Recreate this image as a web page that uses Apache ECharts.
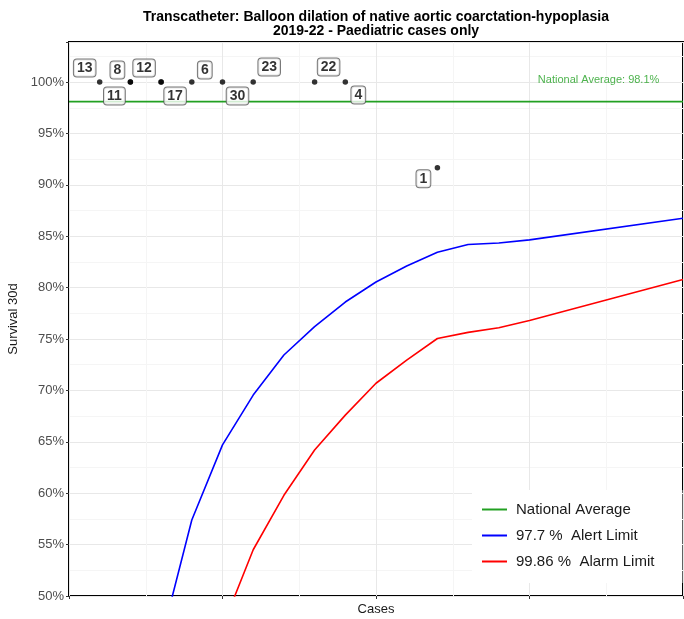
<!DOCTYPE html>
<html><head><meta charset="utf-8">
<script src="https://cdn.jsdelivr.net/npm/echarts@6/dist/echarts.min.js"></script>
<style>html,body{margin:0;padding:0;background:#fff}#c{width:684px;height:619px}</style>
</head><body><div id="c"></div>
<script>
// Hospital points (code label, cases, 30-day survival %)
const hospitalCodes = ['13','8','11','12','17','6','30','23','22','4','1'];
const hospitalCases = [2, 4, 4, 6, 6, 8, 10, 12, 16, 18, 24];
const hospitalSurvival = [100, 100, 100, 100, 100, 100, 100, 100, 100, 100, 91.67];
// label displacement (repel-style) in px relative to each point
const labelOffsets = [[-15,-14],[-13,-12],[-16,14],[-17,-14],[14,14],[13,-12],[15,14],[16,-15],[14,-15],[13,13],[-14,11]];

const nationalAverage = 98.1;
const xRange = [0, 40];

const alertCases = [6, 8, 10, 12, 14, 16, 18, 20, 22, 24, 26, 28, 30, 40];
const alertValues = [45.7, 57.4, 64.7, 69.55, 73.45, 76.2, 78.6, 80.55, 82.1, 83.45, 84.2, 84.35, 84.65, 86.75];

const alarmCases = [10, 12, 14, 16, 18, 20, 22, 24, 26, 28, 30, 40];
const alarmValues = [47.0, 54.5, 59.8, 64.2, 67.6, 70.7, 72.95, 75.05, 75.65, 76.1, 76.8, 80.8];

const yTicks = [50, 55, 60, 65, 70, 75, 80, 85, 90, 95, 100];

const GREEN = '#22a022', BLUE = '#0000ff', RED = '#ff0000';
const chart = echarts.init(document.getElementById('c'), null, {renderer: 'canvas'});
const zip = (a, b) => a.map((v, i) => [v, b[i]]);

chart.setOption({
  animation: false,
  backgroundColor: '#fff',
  textStyle: {fontFamily: '"Liberation Sans", Arial, sans-serif'},
  title: {
    text: 'Transcatheter: Balloon dilation of native aortic coarctation-hypoplasia\n2019-22 - Paediatric cases only',
    left: 376, top: 10, padding: 0, textAlign: 'center',
    textStyle: {fontSize: 14, fontWeight: 'bold', color: '#000', lineHeight: 14, fontFamily: '"Liberation Sans", Arial, sans-serif'}
  },
  grid: {left: 69, right: 1, top: 42, bottom: 23, show: true, borderColor: '#000', borderWidth: 2,
    backgroundColor: 'transparent', containLabel: false, outerBoundsMode: 'none'},
  legend: {
    data: ['National Average', '97.7 %  Alert Limit', '99.86 %  Alarm Limit'],
    orient: 'vertical', left: 472, top: 490,
    padding: [12, 28, 14, 10], itemGap: 11,
    backgroundColor: '#fff',
    icon: 'rect', itemWidth: 25, itemHeight: 2,
    textStyle: {fontSize: 15, color: '#1a1a1a', fontFamily: '"Liberation Sans", Arial, sans-serif', padding: [0, 0, 0, 4]}
  },
  xAxis: {
    type: 'value', min: xRange[0], max: xRange[1], interval: 10,
    name: 'Cases', nameLocation: 'middle', nameGap: 7,
    nameTextStyle: {fontSize: 13, color: '#1a1a1a', verticalAlign: 'top'},
    axisLine: {show: false},
    axisTick: {show: true, length: 3, lineStyle: {color: '#333', width: 1}},
    axisLabel: {show: false},
    splitLine: {show: true, lineStyle: {color: '#e8e8e8', width: 1}},
    minorTick: {show: false, splitNumber: 2},
    minorSplitLine: {show: true, lineStyle: {color: '#f5f5f5', width: 1}}
  },
  yAxis: {
    type: 'value', min: 50, max: 103.9, interval: 5,
    name: 'Survival 30d', nameLocation: 'middle', nameGap: 47, nameRotate: 90,
    nameTextStyle: {fontSize: 13, color: '#1a1a1a'},
    axisLine: {show: false},
    axisTick: {show: true, length: 3, lineStyle: {color: '#333', width: 1}},
    axisLabel: {fontSize: 13, color: '#4d4d4d', margin: 5,
      formatter: v => yTicks.indexOf(Math.round(v * 100) / 100) >= 0 ? v + '%' : ''},
    splitLine: {show: true, lineStyle: {color: '#e8e8e8', width: 1}},
    minorTick: {show: false, splitNumber: 2},
    minorSplitLine: {show: true, lineStyle: {color: '#f5f5f5', width: 1}}
  },
  series: [
    {
      name: 'National Average', type: 'line', showSymbol: false, symbol: 'none',
      data: [[xRange[0], nationalAverage], [xRange[1], nationalAverage]],
      lineStyle: {color: GREEN, width: 1.6}, itemStyle: {color: GREEN}, z: 3
    },
    {
      name: '97.7 %  Alert Limit', type: 'line', showSymbol: false, symbol: 'none', clip: true,
      data: zip(alertCases, alertValues),
      lineStyle: {color: BLUE, width: 1.6}, itemStyle: {color: BLUE}, z: 3
    },
    {
      name: '99.86 %  Alarm Limit', type: 'line', showSymbol: false, symbol: 'none', clip: true,
      data: zip(alarmCases, alarmValues),
      lineStyle: {color: RED, width: 1.6}, itemStyle: {color: RED}, z: 3
    },
    {
      name: 'natLabel', type: 'scatter', symbolSize: 0, silent: true,
      data: [[34.5, nationalAverage]],
      label: {show: true, position: 'inside', offset: [0, -22], formatter: 'National Average: ' + nationalAverage + '%',
        color: GREEN, fontSize: 11}, z: 4
    },
    {
      name: 'hospitals', type: 'scatter', symbolSize: 5.5, itemStyle: {color: '#000'}, z: 5,
      data: hospitalCodes.map((c, i) => ({
        value: [hospitalCases[i], hospitalSurvival[i]], name: c,
        label: {offset: labelOffsets[i]}
      })),
      label: {
        show: true, position: 'inside', formatter: p => p.name,
        fontSize: 14, fontWeight: 'bold', color: '#000',
        backgroundColor: '#fff', borderColor: '#555', borderWidth: 1, borderRadius: 3,
        padding: [2, 3, 1, 3]
      }
    }
  ]
});
</script>
</body></html>
